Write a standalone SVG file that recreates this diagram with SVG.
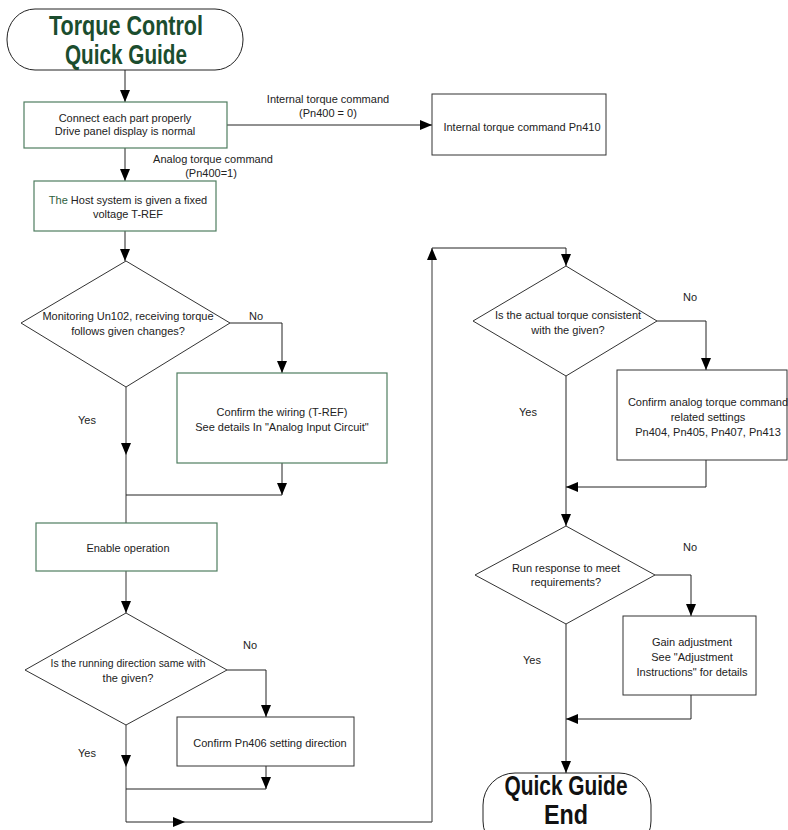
<svg xmlns="http://www.w3.org/2000/svg" width="788" height="830" viewBox="0 0 788 830">
<style>
.t{font-family:"Liberation Sans",Arial,sans-serif;font-size:11px;fill:#222;text-anchor:middle}
.lb{font-family:"Liberation Sans",Arial,sans-serif;font-size:11px;fill:#222;text-anchor:middle}
.ttl{font-family:"Liberation Sans",Arial,sans-serif;font-size:27px;font-weight:bold;text-anchor:middle}
.g{fill:#fff;stroke:#4f7d60;stroke-width:1.2}
.k{fill:#fff;stroke:#333;stroke-width:1}
.term{fill:#fff;stroke:#222;stroke-width:1}
.c{fill:none;stroke:#222;stroke-width:1}
.cg{fill:none;stroke:#555;stroke-width:1.2}
</style>
<defs>
<marker id="ah" markerUnits="userSpaceOnUse" markerWidth="12" markerHeight="10" refX="12" refY="5" orient="auto">
<path d="M0,0 L12,5 L0,10 z" fill="#000"/>
</marker>
</defs>
<rect width="788" height="830" fill="#fff"/>
<g id="connectors">
<line class="c" x1="125" y1="70" x2="125" y2="102" marker-end="url(#ah)"/>
<line class="c" x1="227" y1="125" x2="432" y2="125" marker-end="url(#ah)"/>
<line class="c" x1="125" y1="148" x2="125" y2="181" marker-end="url(#ah)"/>
<line class="c" x1="125" y1="231" x2="125" y2="261" marker-end="url(#ah)"/>
<polyline class="c" points="230,323 282,323 282,373" marker-end="url(#ah)"/>
<line class="cg" x1="126" y1="387" x2="126" y2="455" marker-end="url(#ah)"/>
<line class="cg" x1="126" y1="455" x2="126" y2="523"/>
<line class="c" x1="282" y1="463" x2="282" y2="495" marker-end="url(#ah)"/>
<line class="c" x1="282" y1="495" x2="126" y2="495"/>
<line class="cg" x1="126" y1="571" x2="126" y2="613" marker-end="url(#ah)"/>
<polyline class="c" points="227,670 266,670 266,717" marker-end="url(#ah)"/>
<line class="cg" x1="126" y1="725" x2="126" y2="767" marker-end="url(#ah)"/>
<line class="cg" x1="126" y1="767" x2="126" y2="822"/>
<line class="c" x1="266" y1="766" x2="266" y2="789" marker-end="url(#ah)"/>
<line class="c" x1="266" y1="789" x2="126" y2="789"/>
<line class="c" x1="126" y1="822" x2="185" y2="822" marker-end="url(#ah)"/>
<line class="c" x1="185" y1="822" x2="432" y2="822"/>
<line class="cg" x1="432" y1="822" x2="432" y2="248" marker-end="url(#ah)"/>
<polyline class="c" points="432,248 566,248 566,266" marker-end="url(#ah)"/>
<polyline class="c" points="657,321 706,321 706,370" marker-end="url(#ah)"/>
<polyline class="c" points="706,460 706,487 566,487" marker-end="url(#ah)"/>
<line class="c" x1="566" y1="376" x2="566" y2="526" marker-end="url(#ah)"/>
<polyline class="c" points="655,575 691,575 691,616" marker-end="url(#ah)"/>
<polyline class="c" points="691,695 691,719 566,719" marker-end="url(#ah)"/>
<line class="c" x1="566" y1="624" x2="566" y2="773" marker-end="url(#ah)"/>
<text class="lb" x="328" y="103">Internal torque command</text>
<text class="lb" x="328" y="117">(Pn400 = 0)</text>
<text class="lb" x="213" y="163">Analog torque command</text>
<text class="lb" x="211" y="177">(Pn400=1)</text>
<text class="lb" x="256" y="320">No</text>
<text class="lb" x="87" y="424">Yes</text>
<text class="lb" x="250" y="649">No</text>
<text class="lb" x="87" y="757">Yes</text>
<text class="lb" x="690" y="301">No</text>
<text class="lb" x="528" y="416">Yes</text>
<text class="lb" x="690" y="551">No</text>
<text class="lb" x="532" y="664">Yes</text>
</g>
<g id="start">
<rect class="term" x="7" y="9" width="236" height="61" rx="28" ry="30"/>
<text class="ttl" x="126" y="35" fill="#1b4d2e" textLength="154" lengthAdjust="spacingAndGlyphs">Torque Control</text>
<text class="ttl" x="126" y="64" fill="#1b4d2e" textLength="122" lengthAdjust="spacingAndGlyphs">Quick Guide</text>
</g>
<g id="connect">
<rect class="g" x="24" y="102" width="203" height="46"/>
<text class="t" x="125" y="122">Connect each part properly</text>
<text class="t" x="125" y="135">Drive panel display is normal</text>
</g>
<g id="internal">
<rect class="k" x="432" y="94" width="174" height="61"/>
<text class="t" x="522" y="131">Internal torque command Pn410</text>
</g>
<g id="host">
<rect class="g" x="34" y="181" width="182" height="50"/>
<text class="t" x="128" y="204"><tspan fill="#2d5e3c">The</tspan> Host system is given a fixed</text>
<text class="t" x="128" y="218">voltage T-REF</text>
</g>
<g id="monitor">
<polygon class="k" points="126,261 230,323 126,387 21,323"/>
<text class="t" x="128" y="320">Monitoring Un102, receiving torque</text>
<text class="t" x="128" y="335">follows given changes?</text>
</g>
<g id="wiring">
<rect class="g" x="177" y="373" width="210" height="90"/>
<text class="t" x="282" y="416">Confirm the wiring (T-REF)</text>
<text class="t" x="282" y="431">See details In "Analog Input Circuit"</text>
</g>
<g id="enable">
<rect class="g" x="36" y="523" width="181" height="48"/>
<text class="t" x="128" y="552">Enable operation</text>
</g>
<g id="direction">
<polygon class="k" points="126,613 227,670 126,725 25,670"/>
<text class="t" x="128" y="667" textLength="155" lengthAdjust="spacingAndGlyphs">Is the running direction same with</text>
<text class="t" x="128" y="682">the given?</text>
</g>
<g id="pn406">
<rect class="k" x="177" y="717" width="177" height="49"/>
<text class="t" x="270" y="747">Confirm Pn406 setting direction</text>
</g>
<g id="actual">
<polygon class="k" points="566,266 657,321 566,376 473,321"/>
<text class="t" x="568" y="319">Is the actual torque consistent</text>
<text class="t" x="568" y="334">with the given?</text>
</g>
<g id="analogset">
<rect class="k" x="617" y="370" width="170" height="90"/>
<text class="t" x="708" y="406">Confirm analog torque command</text>
<text class="t" x="708" y="421">related settings</text>
<text class="t" x="708" y="436">Pn404, Pn405, Pn407, Pn413</text>
</g>
<g id="response">
<polygon class="k" points="566,526 655,575 566,624 475,575"/>
<text class="t" x="566" y="572">Run response to meet</text>
<text class="t" x="566" y="586">requirements?</text>
</g>
<g id="gain">
<rect class="k" x="623" y="616" width="133" height="79"/>
<text class="t" x="692" y="646">Gain adjustment</text>
<text class="t" x="692" y="661">See "Adjustment</text>
<text class="t" x="692" y="676">Instructions" for details</text>
</g>
<g id="end">
<rect class="term" x="483" y="773" width="168" height="80" rx="32" ry="32"/>
<text class="ttl" x="566" y="795" fill="#111" font-size="23" textLength="123" lengthAdjust="spacingAndGlyphs">Quick Guide</text>
<text class="ttl" x="566" y="824" fill="#111" font-size="23" textLength="44" lengthAdjust="spacingAndGlyphs">End</text>
</g>
</svg>
